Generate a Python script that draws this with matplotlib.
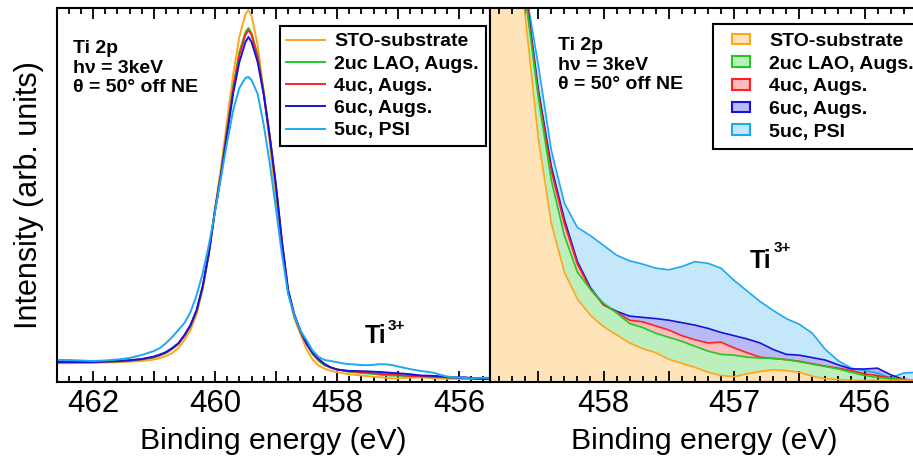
import matplotlib
matplotlib.use('Agg')
import matplotlib.pyplot as plt
from matplotlib.ticker import MultipleLocator, FuncFormatter
from matplotlib.patches import Patch, Rectangle
from matplotlib.legend_handler import HandlerPatch

plt.rcParams['font.family'] = ['Liberation Sans', 'DejaVu Sans']

# binding energy grid (eV)
energy = [462.6, 462.4, 462.2, 462.0, 461.8, 461.6, 461.4, 461.2, 461.0,
          460.9, 460.8, 460.7, 460.6, 460.5, 460.4, 460.3, 460.2, 460.1, 460.0,
          459.9, 459.8, 459.7, 459.6, 459.5, 459.45, 459.4, 459.3, 459.2, 459.1, 459.0,
          458.9, 458.8, 458.7, 458.6, 458.5, 458.4, 458.3, 458.2, 458.1, 458.0,
          457.9, 457.8, 457.7, 457.6, 457.5, 457.4, 457.3, 457.2, 457.1, 457.0,
          456.9, 456.8, 456.7, 456.6, 456.5, 456.4, 456.3, 456.2, 456.1, 456.0,
          455.9, 455.8, 455.7, 455.6, 455.5]

# intensities (arb. units)
sto = [18.6, 18.8, 19.0, 19.2, 19.5, 19.8, 20.3, 21.0, 22.5,
       24, 26, 29, 34, 42, 52, 68, 93, 128, 172,
       215, 262, 308, 345, 368, 372, 366, 337, 290, 237, 185,
       135, 90, 64, 48, 33, 22.5, 16.5, 13.2, 11.2, 9.8,
       8.8, 7.8, 7.1, 6.6, 5.8, 5.3, 4.8, 4.2, 3.8, 3.65,
       4.0, 4.3, 4.5, 4.4, 4.2, 3.7, 3.4, 3.3, 3.2, 3.2,
       3.2, 3.2, 3.2, 3.2, 3.2]
lao_2uc = [19.5, 19.5, 19.5, 19.6, 20.0, 20.5, 21.2, 22.5, 24.5,
           26.5, 29, 33, 38, 46, 56, 71, 95, 129, 172,
           210, 253, 296, 330, 350, 354, 349, 327, 290, 244, 194,
           138, 90, 66, 50.5, 38, 27.8, 21, 16.5, 14.4, 12.7,
           11.5, 10.2, 9.7, 9.0, 8.5, 8.0, 7.4, 6.8, 6.4, 6.3,
           6.05, 5.95, 5.9, 5.75, 5.5, 5.2, 4.9, 4.6, 4.2, 3.8,
           3.55, 3.4, 3.3, 3.25, 3.2]
lao_4uc = [19.8, 19.8, 19.8, 19.9, 20.2, 20.7, 21.5, 22.8, 25,
           27, 29.5, 33.5, 38.3, 46.5, 56.5, 71.5, 95.5, 129, 172,
           209, 251, 293, 327, 347, 352, 347, 325, 289, 245, 196,
           139, 91, 67, 51, 38.5, 29, 22.5, 17.5, 14.4, 12.5,
           11.6, 10.6, 10.4, 9.9, 9.4, 8.7, 8.2, 7.8, 7.9, 7.2,
           6.6, 6.05, 5.9, 5.75, 5.55, 5.25, 4.95, 4.7, 4.4, 4.0,
           3.8, 3.5, 3.3, 3.25, 3.2]
lao_6uc = [20, 20, 20, 20, 20.5, 21, 21.8, 23, 25.5,
           27.5, 30, 34, 38.7, 47, 57, 72, 96, 129, 171,
           207, 248, 289, 320, 340, 345, 340, 320, 287, 245, 197,
           140, 92, 68, 51.5, 39, 29.5, 23, 17.8, 14.6, 12.5,
           11.7, 11.1, 10.95, 10.8, 10.6, 10.3, 10.0, 9.6, 9.1, 8.7,
           8.3, 7.8, 7.0, 6.4, 6.3, 6.0, 5.7, 5.1, 4.6, 4.6,
           4.7, 3.9, 3.3, 3.2, 3.2]
psi_5uc = [22, 22, 21.5, 21, 21.5, 22.5, 24, 27, 31,
           34, 39, 45, 52, 59, 70, 87, 109, 137, 170,
           205, 240, 272, 294, 304, 305, 302, 288, 257, 218, 173,
           127, 88, 67, 51.5, 42, 31.5, 25, 22, 21, 19.8,
           18.6, 17.9, 17.5, 17.0, 16.8, 17.2, 17.8, 17.6, 17.0, 15.5,
           14.2, 12.9, 11.8, 10.8, 10.1, 9.0, 7.0, 5.6, 4.7, 4.4,
           4.1, 3.5, 4.1, 4.2, 4.2]

labels = ['STO-substrate', '2uc LAO, Augs.', '4uc, Augs.', '6uc, Augs.', '5uc, PSI']
series = [sto, lao_2uc, lao_4uc, lao_6uc, psi_5uc]
line_colors = ['#FFA51E', '#22C822', '#FF2222', '#1414DC', '#1EA8F2']
fill_colors = ['#FFE4BA', '#BDEFBD', '#FFBCBC', '#B9B9F6', '#C4E8FA']

fig = plt.figure(figsize=(9.13, 4.66), dpi=100)
ax1 = fig.add_axes([57 / 913, 84 / 466, 433 / 913, 374 / 466])
ax2 = fig.add_axes([490 / 913, 84 / 466, 428 / 913, 374 / 466])


def style_axis(ax, major, minor, label_step):
    ax.xaxis.set_major_locator(MultipleLocator(major))
    ax.xaxis.set_minor_locator(MultipleLocator(minor))
    ax.xaxis.set_major_formatter(FuncFormatter(
        lambda v, p: f'{v:.0f}' if abs(v / label_step - round(v / label_step)) < 1e-6 else ''))
    ax.tick_params(axis='x', which='both', direction='in', top=True, bottom=True,
                   labelsize=22.5, width=1.3, pad=5)
    ax.tick_params(axis='x', which='major', length=8)
    ax.tick_params(axis='x', which='minor', length=4.5)
    ax.set_yticks([])
    for s in ax.spines.values():
        s.set_linewidth(1.5)
    ax.set_xlabel('Binding energy (eV)', fontsize=21.8, labelpad=6)


def small_box(legend, orig_handle, xdescent, ydescent, width, height, fontsize):
    # narrow swatch aligned to the right of the handle area
    w = 13.0
    h = 7.5
    return Rectangle((-xdescent + width - w, -ydescent + (height - h) / 2), w, h)


# left panel: full Ti 2p peak
handles = []
for vals, lab, lc in zip(series, labels, line_colors):
    h, = ax1.plot(energy, vals, color=lc, lw=1.4, label=lab)
    handles.append(h)
ax1.set_xlim(462.59, 455.49)
ax1.set_ylim(0, 374)
style_axis(ax1, 1.0, 0.2, 2)
ax1.set_ylabel('Intensity (arb. units)', fontsize=22, labelpad=9)

leg1 = ax1.legend(handles, labels, loc='upper right', bbox_to_anchor=(0.990, 0.952),
                  prop={'weight': 'bold', 'size': 14}, fancybox=False, edgecolor='black',
                  framealpha=1, borderaxespad=0, handlelength=2.0, handletextpad=0.46,
                  labelspacing=0.24, borderpad=0.35)
leg1.get_frame().set_linewidth(1.5)

# right panel: zoom on the Ti3+ region, filled spectra
for i in [4, 3, 2, 1, 0]:
    ax2.fill_between(energy, 0, series[i], facecolor=fill_colors[i],
                     edgecolor='none', zorder=1)
    ax2.plot(energy, series[i], color=line_colors[i], lw=1.2, zorder=2)
ax2.set_xlim(458.87, 455.59)
ax2.set_ylim(3, 49)
style_axis(ax2, 0.5, 0.1, 1)

patches = [Patch(facecolor=fc, edgecolor=lc, lw=1.5) for fc, lc in zip(fill_colors, line_colors)]
leg2 = ax2.legend(patches, labels, loc='upper left', bbox_to_anchor=(0.521, 0.957),
                  prop={'weight': 'bold', 'size': 14}, fancybox=False, edgecolor='black',
                  framealpha=1, borderaxespad=0, handlelength=1.45, handleheight=0.6,
                  handletextpad=1.0, labelspacing=0.29, borderpad=0.45,
                  handler_map={Patch: HandlerPatch(patch_func=small_box)})
leg2.get_frame().set_linewidth(1.5)

# annotations
info = 'Ti 2p\nh\u03bd = 3keV\n\u03b8 = 50\u00b0 off NE'
ax1.text(0.037, 0.914, info, transform=ax1.transAxes, ha='left', va='top',
         fontsize=14, fontweight='bold', linespacing=1.2)
ax2.text(0.160, 0.922, info, transform=ax2.transAxes, ha='left', va='top',
         fontsize=14, fontweight='bold', linespacing=1.2)

ax1.text(0.711, 0.104, 'Ti', transform=ax1.transAxes, fontsize=18, fontweight='bold', va='baseline')
ax1.text(0.764, 0.139, '3+', transform=ax1.transAxes, fontsize=11, fontweight='bold', va='baseline')
ax2.text(0.608, 0.305, 'Ti', transform=ax2.transAxes, fontsize=18, fontweight='bold', va='baseline')
ax2.text(0.662, 0.348, '3+', transform=ax2.transAxes, fontsize=11, fontweight='bold', va='baseline')

fig.savefig('out.png', dpi=100)
